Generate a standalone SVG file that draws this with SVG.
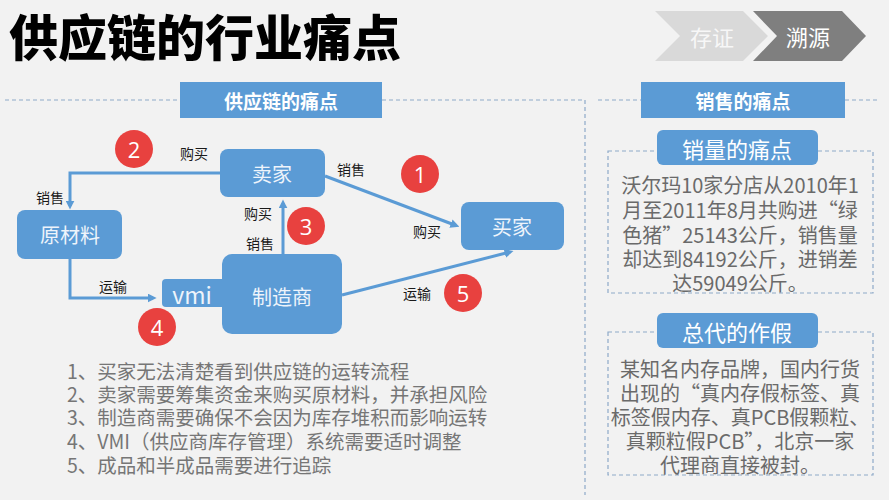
<svg xmlns="http://www.w3.org/2000/svg" width="889" height="500" viewBox="0 0 889 500">
<defs>
<marker id="arr" viewBox="0 0 10 10" refX="6" refY="5" markerWidth="9" markerHeight="9" markerUnits="userSpaceOnUse" orient="auto">
<path d="M0,0 L10,5 L0,10 z" fill="#5b9bd5"/>
</marker>
<style>
text{font-family:"Noto Sans CJK SC","Noto Sans",sans-serif;}
.node{fill:#5b9bd5;}
.ntxt{fill:#eef4fb;font-size:20px;text-anchor:middle;dominant-baseline:central;}
.lbl{fill:#1a1a1a;font-size:14px;text-anchor:middle;dominant-baseline:central;}
.edge{fill:none;stroke:#5b9bd5;stroke-width:3;marker-end:url(#arr);}
.badge{fill:#e8413f;}
.btxt{fill:#ffffff;font-size:22px;text-anchor:middle;dominant-baseline:central;font-family:"Open Sans","Noto Sans",sans-serif;}
.hdr{fill:#5b9bd5;}
.htxt{fill:#ffffff;font-size:19px;font-weight:bold;text-anchor:middle;dominant-baseline:central;}
.dash{fill:none;stroke:#8ea9c8;stroke-width:1.2;stroke-dasharray:4 3;}
.list{fill:#767676;font-size:19.5px;}
.rtxt{fill:#6a6a6a;font-size:20px;text-anchor:middle;}
.sub{fill:#5b9bd5;}
.stxt{fill:#ffffff;font-size:22px;text-anchor:middle;dominant-baseline:central;}
</style>
</defs>
<rect x="0" y="0" width="889" height="500" fill="#f2f2f2"/>

<g id="title">
<text x="9" y="56" font-size="49" font-weight="900" fill="#000000">供应链的行业痛点</text>
</g>

<g id="chevrons">
<polygon points="655,11 743,11 768,36 743,61 655,61 680,36" fill="#d9d9d9"/>
<text x="712" y="36" font-size="22" fill="#f7f7f7" text-anchor="middle" dominant-baseline="central">存证</text>
<polygon points="753,11 842,11 866,36 842,61 753,61 777,36" fill="#7f7f7f"/>
<text x="808" y="36" font-size="22" fill="#ffffff" text-anchor="middle" dominant-baseline="central">溯源</text>
</g>

<g id="panel-lines">
<path class="dash" d="M5,100 H180 M382,100 H585 V495"/>
<path class="dash" d="M598,100 H641 M845,100 H877"/>
</g>

<g id="header-left">
<rect class="hdr" x="180" y="82" width="202" height="36"/>
<text class="htxt" x="281" y="100">供应链的痛点</text>
</g>

<g id="header-right">
<rect class="hdr" x="641" y="82" width="204" height="36"/>
<text class="htxt" x="743" y="100">销售的痛点</text>
</g>

<g id="connectors">
<path class="edge" d="M220,173 H70 V206"/>
<path class="edge" d="M70,259 V298 H153"/>
<path class="edge" d="M283,254 V203"/>
<path class="edge" d="M325,176 L456,225.5"/>
<path class="edge" d="M342,295 L510,252"/>
<text class="lbl" x="194" y="153">购买</text>
<text class="lbl" x="50" y="197">销售</text>
<text class="lbl" x="113" y="286">运输</text>
<text class="lbl" x="258" y="213">购买</text>
<text class="lbl" x="260" y="243">销售</text>
<text class="lbl" x="351" y="169">销售</text>
<text class="lbl" x="427" y="231">购买</text>
<text class="lbl" x="417" y="293">运输</text>
</g>

<g id="node-seller">
<rect class="node" x="220" y="149" width="105" height="48" rx="8"/>
<text class="ntxt" x="272" y="173">卖家</text>
</g>
<g id="node-raw">
<rect class="node" x="17" y="210" width="105" height="49" rx="8"/>
<text class="ntxt" x="70" y="234">原材料</text>
</g>
<g id="node-buyer">
<rect class="node" x="461" y="202" width="103" height="48" rx="8"/>
<text class="ntxt" x="512" y="226">买家</text>
</g>
<g id="node-vmi">
<rect class="node" x="162" y="279" width="72" height="28" rx="4"/>
<text x="192" y="294" fill="#eef4fb" font-size="23" text-anchor="middle" dominant-baseline="central" font-family="Open Sans, Noto Sans, sans-serif">vmi</text>
</g>
<g id="node-maker">
<rect class="node" x="222" y="254" width="120" height="80" rx="10"/>
<text class="ntxt" x="282" y="296">制造商</text>
</g>

<g id="badges">
<circle class="badge" cx="134" cy="149" r="19"/><text class="btxt" x="134" y="149">2</text>
<circle class="badge" cx="420" cy="174" r="19"/><text class="btxt" x="420" y="174">1</text>
<circle class="badge" cx="306" cy="226" r="19"/><text class="btxt" x="306" y="226">3</text>
<circle class="badge" cx="157" cy="327" r="19"/><text class="btxt" x="157" y="327">4</text>
<circle class="badge" cx="463" cy="293" r="19"/><text class="btxt" x="463" y="293">5</text>
</g>

<g id="list">
<text class="list" x="67" y="379">1、买家无法清楚看到供应链的运转流程</text>
<text class="list" x="67" y="402">2、卖家需要筹集资金来购买原材料，并承担风险</text>
<text class="list" x="67" y="425">3、制造商需要确保不会因为库存堆积而影响运转</text>
<text class="list" x="67" y="449">4、VMI（供应商库存管理）系统需要适时调整</text>
<text class="list" x="67" y="473">5、成品和半成品需要进行追踪</text>
</g>

<g id="box-sales">
<rect class="dash" x="608" y="151" width="265" height="142"/>
<rect class="sub" x="657" y="130" width="161" height="35" rx="6"/>
<text class="stxt" x="737" y="148">销量的痛点</text>
<text class="rtxt" x="740" y="193">沃尔玛10家分店从2010年1</text>
<text class="rtxt" x="740" y="218">月至2011年8月共购进“绿</text>
<text class="rtxt" x="740" y="243">色猪”25143公斤，销售量</text>
<text class="rtxt" x="740" y="267">却达到84192公斤，进销差</text>
<text class="rtxt" x="740" y="291">达59049公斤。</text>
</g>

<g id="box-fake">
<rect class="dash" x="608" y="332" width="265" height="143"/>
<rect class="sub" x="657" y="313" width="161" height="35" rx="6"/>
<text class="stxt" x="737" y="331">总代的作假</text>
<text class="rtxt" x="740" y="377">某知名内存品牌，国内行货</text>
<text class="rtxt" x="740" y="401">出现的“真内存假标签、真</text>
<text class="rtxt" x="740" y="425">标签假内存、真PCB假颗粒、</text>
<text class="rtxt" x="740" y="449">真颗粒假PCB”，北京一家</text>
<text class="rtxt" x="740" y="473">代理商直接被封。</text>
</g>
</svg>
